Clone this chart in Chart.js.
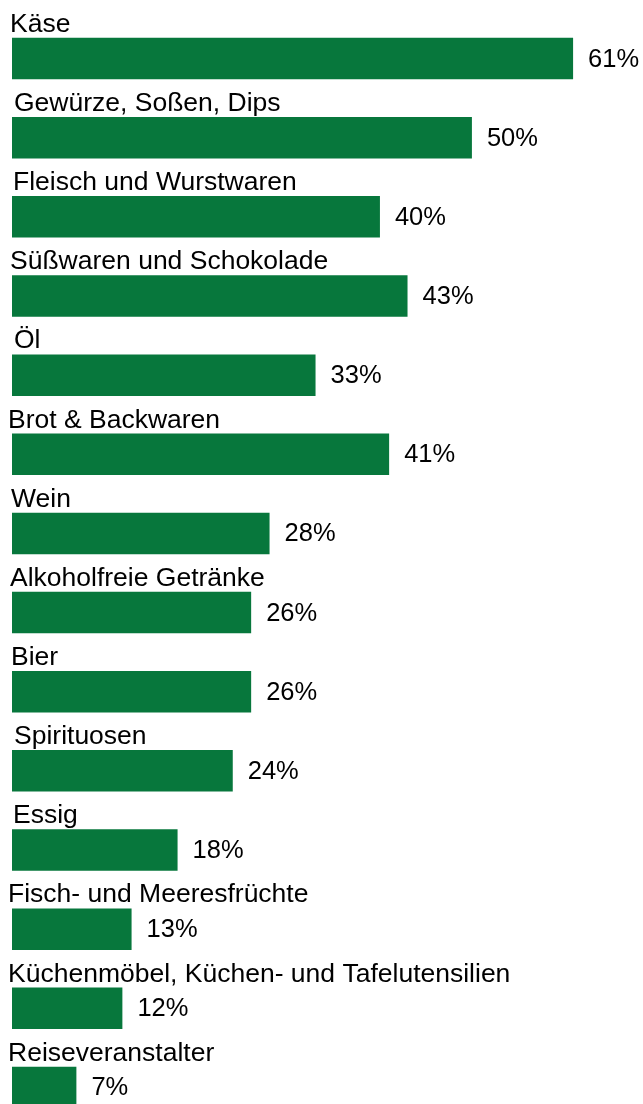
<!DOCTYPE html>
<html>
<head>
<meta charset="utf-8">
<script src="https://cdn.jsdelivr.net/npm/chart.js"></script>
<style>
  html, body { margin: 0; padding: 0; background: #fff; overflow: hidden; }
  #wrap { position: relative; width: 643px; height: 1127px; }
</style>
</head>
<body>
<div id="wrap"><canvas id="chart"></canvas></div>
<script>
// Daten
const categories = [
  'Käse',
  'Gewürze, Soßen, Dips',
  'Fleisch und Wurstwaren',
  'Süßwaren und Schokolade',
  'Öl',
  'Brot & Backwaren',
  'Wein',
  'Alkoholfreie Getränke',
  'Bier',
  'Spirituosen',
  'Essig',
  'Fisch- und Meeresfrüchte',
  'Küchenmöbel, Küchen- und Tafelutensilien',
  'Reiseveranstalter'
];
const shares = [61, 50, 40, 43, 33, 41, 28, 26, 26, 24, 18, 13, 12, 7];

// Layout: linker Textbeginn je Beschriftung (im Original leicht versetzt)
const labelIndent = [10, 14, 13, 10, 14, 8, 11, 10, 11, 14, 13, 8, 8, 8];

const barColor = '#07773c';
const fontFamily = '"Liberation Sans", Arial, sans-serif';

// Beschriftungen über den Balken und Werte rechts daneben
const barLabels = {
  id: 'barLabels',
  afterDatasetsDraw(chart) {
    const ctx = chart.ctx;
    const meta = chart.getDatasetMeta(0);
    ctx.save();
    ctx.fillStyle = '#000';
    meta.data.forEach((bar, i) => {
      const { x, y, height } = bar.getProps(['x', 'y', 'height'], true);
      // Kategorie über dem Balken
      ctx.font = '26.5px ' + fontFamily;
      ctx.textAlign = 'left';
      ctx.textBaseline = 'alphabetic';
      ctx.fillText(categories[i], labelIndent[i], y - height / 2 - 6);
      // Prozentwert
      ctx.font = '25.5px ' + fontFamily;
      ctx.textBaseline = 'middle';
      ctx.fillText(shares[i] + '%', x + 15, y + 1);
    });
    ctx.restore();
  }
};

const ctx = document.getElementById('chart').getContext('2d');
new Chart(ctx, {
  type: 'bar',
  data: {
    labels: categories,
    datasets: [{
      data: shares,
      backgroundColor: barColor,
      borderWidth: 0,
      barPercentage: 0.524,
      categoryPercentage: 1
    }]
  },
  options: {
    indexAxis: 'y',
    responsive: true,
    maintainAspectRatio: false,
    animation: false,
    layout: { padding: { left: 12, right: 0, top: 19, bottom: 0 } },
    plugins: {
      legend: { display: false },
      tooltip: { enabled: false }
    },
    scales: {
      x: { display: false, min: 0, max: 68.6 },
      y: { display: false }
    }
  },
  plugins: [barLabels]
});
</script>
</body>
</html>
